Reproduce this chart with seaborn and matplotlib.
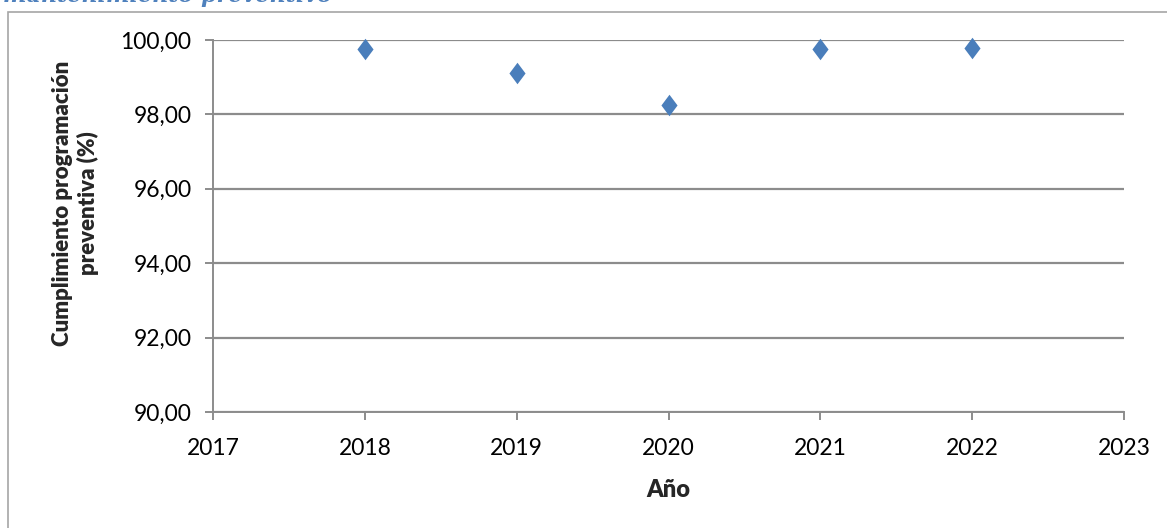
import seaborn as sns
import matplotlib.pyplot as plt
from matplotlib.patches import Rectangle
from pandas import DataFrame

# data
anios = [2018, 2019, 2020, 2021, 2022]
cumplimiento = [99.75, 99.12, 98.24, 99.75, 99.78]
y_ticks = [90, 92, 94, 96, 98, 100]
x_ticks = [2017, 2018, 2019, 2020, 2021, 2022, 2023]

data = DataFrame({'anio': anios, 'cumplimiento': cumplimiento})

sns.set_style("white")
plt.rcParams['font.family'] = ['Lato', 'DejaVu Sans']

W, H = 1167, 528
fig = plt.figure(figsize=(W / 100, H / 100), dpi=100)

# outer chart border
fig.patches.append(Rectangle((8 / W, -0.05), 1.1, 1 - 12 / H + 0.05,
                             transform=fig.transFigure, fill=False,
                             edgecolor='#a6a6a6', linewidth=1.2))

# clipped heading from the document above
fig.text(3 / W, 1 - 2 / H, "mantenimiento preventivo", color='#4f81bd',
         fontsize=16, fontstyle='italic', fontweight='bold',
         family=['DejaVu Serif'], ha='left', va='baseline')

ax = fig.add_axes([213 / W, (H - 412) / H, 911 / W, 372 / H])

diamond = [(-0.75, 0), (0, 1), (0.75, 0), (0, -1)]
sns.scatterplot(x='anio', y='cumplimiento', data=data, ax=ax,
                marker=diamond, s=240, color='#4a7ebb', linewidth=0,
                zorder=3, clip_on=False)

ax.set_xlim(2017, 2023)
ax.set_ylim(90, 100)
ax.set_xticks(x_ticks)
ax.set_yticks(y_ticks)
ax.set_yticklabels([f"{v:.2f}".replace('.', ',') for v in y_ticks])
ax.yaxis.grid(True, color='#8c8c8c', linewidth=1.6)
ax.set_axisbelow(True)

for side in ['top', 'right']:
    ax.spines[side].set_visible(False)
for side in ['left', 'bottom']:
    ax.spines[side].set_color('#8c8c8c')
    ax.spines[side].set_linewidth(1.4)

ax.tick_params(axis='both', which='major', labelsize=16.5, colors='#8c8c8c',
               labelcolor='black', length=5.5, width=1.4, direction='out',
               left=True, bottom=True)
ax.tick_params(axis='x', pad=13)
ax.tick_params(axis='y', pad=10)

ax.set_xlabel("Año", fontsize=17, fontweight='heavy')
ax.xaxis.set_label_coords(0.5, (412 - 479) / 372)
ax.set_ylabel("Cumplimiento programación\npreventiva (%)", fontsize=16,
              fontweight='heavy', linespacing=1.2)
ax.yaxis.set_label_coords((99 - 213) / 911, (412 - 203) / 372)

fig.savefig("out.png", dpi=100)
